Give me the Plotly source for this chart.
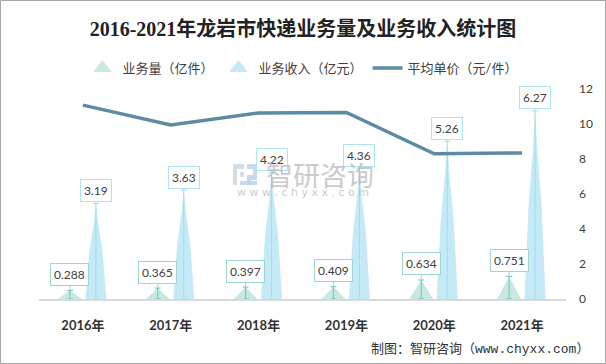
import plotly.graph_objects as go

categories = ['2016年', '2017年', '2018年', '2019年', '2020年', '2021年']
volume = [0.288, 0.365, 0.397, 0.409, 0.634, 0.751]      # 业务量（亿件）
revenue = [3.19, 3.63, 4.22, 4.36, 5.26, 6.27]          # 业务收入（亿元）
unit_price = [11.08, 9.95, 10.63, 10.66, 8.30, 8.35]    # 平均单价（元/件）
y2_ticks = [0, 2, 4, 6, 8, 10, 12]

VOL_FILL = '#c8e8e2'
REV_FILL = '#c4eaf8'
VOL_LINE = '#6cc3b5'
REV_LINE = '#9fdcf0'
LINE_COLOR = '#5b8ca3'
FONT = 'Lato, Noto Sans CJK SC, sans-serif'

idx = list(range(len(categories)))
off = 0.148
vol_x = [i - off for i in idx]
rev_x = [i + off for i in idx]


def spikes(centers, values, half, profile):
    # profile: list of (height fraction, half-width fraction)
    xs, ys = [], []
    for c, v in zip(centers, values):
        left = [(c - half * w, v * h) for h, w in profile]
        right = [(c + half * w, v * h) for h, w in reversed(profile[:-1])]
        pts = left + right + [left[0]]
        xs += [p[0] for p in pts] + [None]
        ys += [p[1] for p in pts] + [None]
    return xs, ys


fig = go.Figure()

vx, vy = spikes(vol_x, volume, 0.135, [(0, 1), (1, 0)])
rx, ry = spikes(rev_x, revenue, 0.12, [(0, 1), (0.5, 0.62), (0.8, 0.2), (1, 0)])

fig.add_trace(go.Scatter(x=vx, y=vy, mode='none', fill='toself', fillcolor=VOL_FILL,
                         showlegend=False, hoverinfo='skip'))
fig.add_trace(go.Scatter(x=rx, y=ry, mode='none', fill='toself', fillcolor=REV_FILL,
                         showlegend=False, hoverinfo='skip'))

# leader lines with caps
fig.add_trace(go.Scatter(x=vol_x, y=[0] * len(volume), mode='markers',
                         marker=dict(size=1, color='rgba(0,0,0,0)'),
                         error_y=dict(type='data', symmetric=False, array=volume,
                                      arrayminus=[0] * len(volume), color=VOL_LINE,
                                      thickness=1, width=3),
                         showlegend=False, hoverinfo='skip'))
fig.add_trace(go.Scatter(x=rev_x, y=[0] * len(revenue), mode='markers',
                         marker=dict(size=1, color='rgba(0,0,0,0)'),
                         error_y=dict(type='data', symmetric=False, array=revenue,
                                      arrayminus=[0] * len(revenue), color=REV_LINE,
                                      thickness=1, width=3),
                         showlegend=False, hoverinfo='skip'))

# legend entries
fig.add_trace(go.Scatter(x=[None], y=[None], mode='markers', name='业务量（亿件）',
                         marker=dict(symbol='triangle-up', size=16, color=VOL_FILL)))
fig.add_trace(go.Scatter(x=[None], y=[None], mode='markers', name='业务收入（亿元）',
                         marker=dict(symbol='triangle-up', size=16, color=REV_FILL)))

fig.add_trace(go.Scatter(x=idx, y=unit_price, mode='lines', name='平均单价（元/件）',
                         line=dict(color=LINE_COLOR, width=3.5), yaxis='y2',
                         hoverinfo='skip'))

annotations = []
for x, v in zip(vol_x, volume):
    annotations.append(dict(x=x, y=v, xref='x', yref='y', text=f'{v:g}', showarrow=True,
                            arrowhead=0, arrowwidth=1, arrowcolor='#9ed6cf', ax=0, ay=-16,
                            bordercolor='#9ed6cf', borderwidth=1, borderpad=3, bgcolor='white',
                            font=dict(family=FONT, size=12, color='#404040')))
for x, v in zip(rev_x, revenue):
    annotations.append(dict(x=x, y=v, xref='x', yref='y', text=f'{v:g}', showarrow=True,
                            arrowhead=0, arrowwidth=1, arrowcolor='#aee3f5', ax=0, ay=-13,
                            bordercolor='#aee3f5', borderwidth=1, borderpad=3, bgcolor='white',
                            font=dict(family=FONT, size=12, color='#404040')))

# watermark
annotations.append(dict(x=0.533, y=0.595, xref='paper', yref='paper', text='智研咨询',
                        showarrow=False, font=dict(family='Noto Sans CJK SC', size=27, color='#b5b5b5'),
                        opacity=0.7))
annotations.append(dict(x=0.501, y=0.505, xref='paper', yref='paper',
                        text='w w w . c h y x x . c o m',
                        showarrow=False, font=dict(family='DejaVu Sans', size=11, color='#b5b5b5'),
                        opacity=0.7))
# source
annotations.append(dict(x=(591 - 39) / 527, y=(299 - 349) / 210, xref='paper', yref='paper',
                        xanchor='right', yanchor='middle',
                        text='制图：智研咨询（www.chyxx.com）', showarrow=False,
                        font=dict(family='Liberation Mono, Noto Sans CJK SC', size=13, color='#333333')))

# watermark logo blocks (paper coords from pixel positions)
def px(xp):
    return (xp - 39) / 527


def py(yp):
    return (299 - yp) / 210


shapes = [dict(type='rect', xref='paper', yref='paper',
               x0=px(0.5), x1=px(605.5), y0=py(363.5), y1=py(0.5),
               line=dict(color='#a6a6a6', width=1), fillcolor='rgba(0,0,0,0)', layer='below')]
for (x0, y0, x1, y1, col) in [(233, 164, 244, 169, '#c9d3e6'), (233, 169, 237, 185, '#c9d3e6'),
                              (240, 172, 244, 177, '#c9d3e6'), (247, 164, 257, 169, '#b8cfe8'),
                              (253, 169, 257, 175, '#b8cfe8'), (247, 175, 257, 180, '#b8cfe8'),
                              (247, 180, 251, 185, '#b8cfe8'), (240, 181, 257, 185, '#b8cfe8')]:
    shapes.append(dict(type='rect', xref='paper', yref='paper', x0=px(x0), x1=px(x1),
                       y0=py(y1), y1=py(y0), line=dict(width=0), fillcolor=col, opacity=0.8,
                       layer='below'))

fig.update_layout(
    width=606, height=364,
    margin=dict(l=39, r=40, t=89, b=65),
    paper_bgcolor='white', plot_bgcolor='white',
    title=dict(text='<b>2016-2021年龙岩市快递业务量及业务收入统计图</b>', x=0.5, xanchor='center',
               y=1 - 29 / 364, yanchor='middle',
               font=dict(family='Liberation Serif, Noto Sans CJK SC', size=20, color='#222222')),
    legend=dict(orientation='h', x=0.5, xanchor='center', y=1 + (299 - 68 - 210) / 210,
                yanchor='middle', font=dict(family=FONT, size=13, color='#404040'),
                bgcolor='rgba(0,0,0,0)'),
    xaxis=dict(range=[-0.5, 5.5], tickvals=idx, ticktext=categories, showgrid=False,
               zeroline=False, showline=True, linecolor='#d9d9d9', linewidth=1.5,
               ticks='', ticklabelstandoff=14,
               tickfont=dict(family=FONT, size=13, color='#333333', weight='bold')),
    yaxis=dict(range=[0, 7], visible=False, showgrid=False, zeroline=False),
    yaxis2=dict(range=[0, 12], tickvals=y2_ticks, overlaying='y', side='right', showgrid=False,
                zeroline=False, showline=False, ticklabelstandoff=12,
                tickfont=dict(family=FONT, size=12, color='#404040')),
    annotations=annotations,
    shapes=shapes,
    showlegend=True,
)

fig.write_html('out.html', config={'displayModeBar': False},
               post_script='document.body.style.margin="0px";')
